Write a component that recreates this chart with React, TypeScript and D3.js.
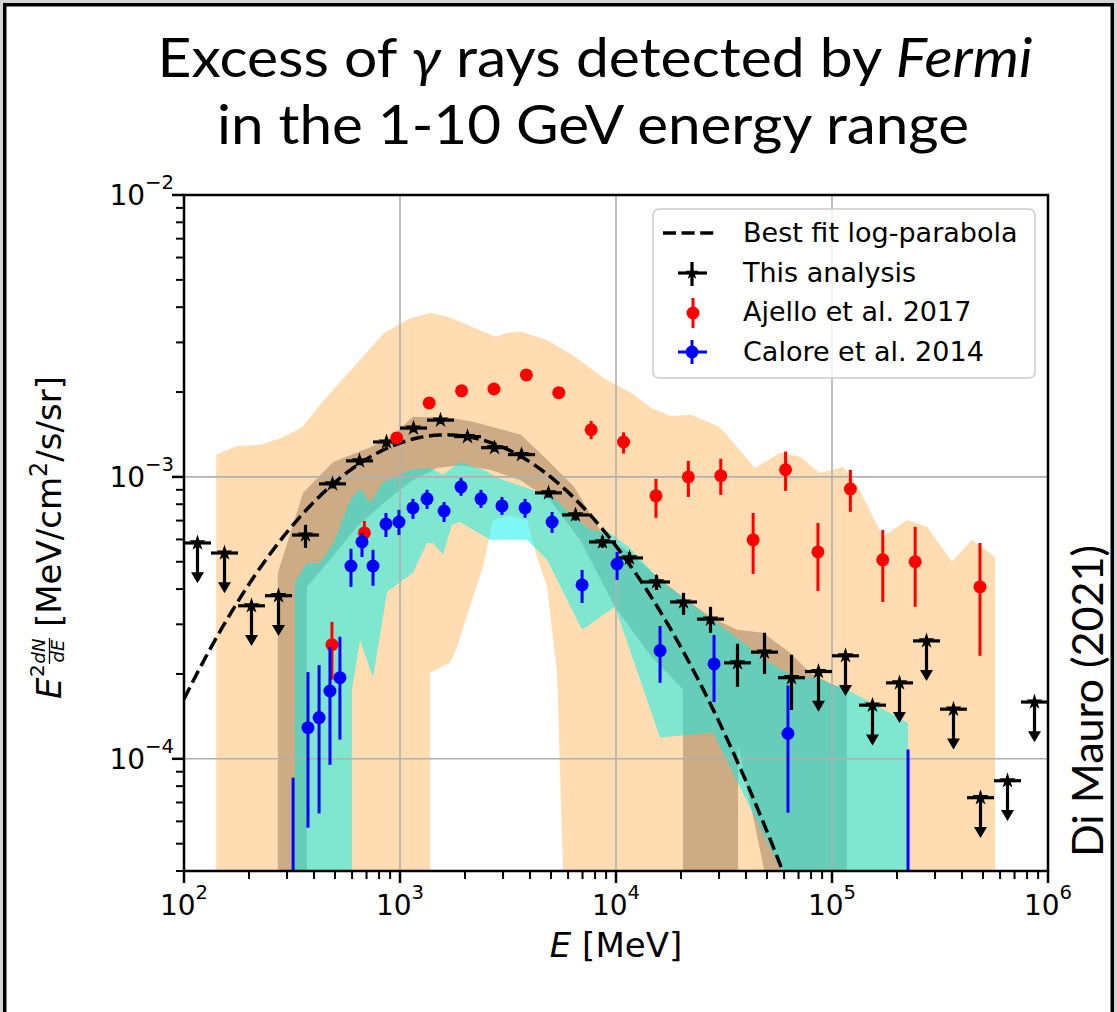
import React from 'react';
import * as d3 from 'd3';

// ---------------- data ----------------
// Energy bin edges of this analysis (MeV), 8 bins per decade
const binEdges = [
  100, 133.35, 177.83, 237.14, 316.23, 421.7, 562.34, 749.89, 1000, 1333.5, 1778.3, 2371.4,
  3162.3, 4217, 5623.4, 7498.9, 10000, 13335, 17783, 23714, 31623, 42170, 56234, 74989,
  100000, 133352, 177828, 237137, 316228, 421697, 562341, 749894, 1000000,
];

// This analysis: E^2 dN/dE [MeV/cm^2/s/sr]
const thisFlux = [
  5.83e-4, 5.37e-4, 3.49e-4, 3.79e-4, 6.22e-4, 9.45e-4, 1.14e-3, 1.33e-3, 1.49e-3, 1.59e-3,
  1.39e-3, 1.27e-3, 1.2e-3, 8.78e-4, 7.33e-4, 5.88e-4, 5.16e-4, 4.24e-4, 3.6e-4, 3.13e-4,
  2.19e-4, 2.39e-4, 1.94e-4, 2.04e-4, 2.32e-4, 1.55e-4, 1.86e-4, 2.62e-4, 1.5e-4, 7.28e-5,
  8.36e-5, 1.59e-4,
];
const thisLow = [
  null, null, null, null, 5.6e-4, 9.1e-4, 1.1e-3, 1.28e-3, 1.44e-3, 1.54e-3,
  1.35e-3, 1.23e-3, 1.16e-3, 8.45e-4, 7.0e-4, 5.6e-4, 4.9e-4, 3.97e-4, 3.24e-4, 2.8e-4,
  1.8e-4, 2.0e-4, 1.49e-4, null, null, null, null, null, null, null, null, null,
];
const thisHigh = [
  null, null, null, null, 6.76e-4, 9.8e-4, 1.18e-3, 1.38e-3, 1.54e-3, 1.64e-3,
  1.44e-3, 1.32e-3, 1.25e-3, 9.1e-4, 7.65e-4, 6.15e-4, 5.4e-4, 4.49e-4, 3.88e-4, 3.46e-4,
  2.56e-4, 2.8e-4, 2.34e-4, null, null, null, null, null, null, null, null, null,
];
const thisUpperLimit = [
  true, true, true, true, false, false, false, false, false, false,
  false, false, false, false, false, false, false, false, false, false,
  false, false, false, true, true, true, true, true, true, true, true, true,
];
// upper-limit arrows extend down to this fraction of the limit
const UL_ARROW_FACTOR = 0.75;

// Ajello et al. 2017
const ajelloE = [
  484, 684, 966, 1365, 1928, 2723, 3846, 5433, 7674, 10839, 15311, 21627, 30549, 43152,
  60954, 86099, 121619, 171791, 242661, 484172,
];
const ajelloFlux = [
  2.54e-4, 6.33e-4, 1.375e-3, 1.83e-3, 2.02e-3, 2.05e-3, 2.3e-3, 1.99e-3, 1.47e-3, 1.33e-3,
  8.57e-4, 1.0e-3, 1.01e-3, 5.98e-4, 1.06e-3, 5.42e-4, 9.06e-4, 5.08e-4, 5.0e-4, 4.07e-4,
];
const ajelloLow = [
  1.91e-4, 5.8e-4, 1.33e-3, 1.78e-3, 1.97e-3, 2.0e-3, 2.25e-3, 1.94e-3, 1.36e-3, 1.21e-3,
  7.16e-4, 8.49e-4, 8.63e-4, 4.53e-4, 8.92e-4, 3.94e-4, 7.52e-4, 3.6e-4, 3.46e-4, 2.32e-4,
];
const ajelloHigh = [
  3.06e-4, 6.98e-4, 1.42e-3, 1.88e-3, 2.07e-3, 2.1e-3, 2.36e-3, 2.04e-3, 1.58e-3, 1.44e-3,
  9.84e-4, 1.14e-3, 1.16e-3, 7.45e-4, 1.23e-3, 6.87e-4, 1.06e-3, 6.49e-4, 6.65e-4, 5.83e-4,
];

// Calore et al. 2014
const caloreE = [
  320, 375, 422, 474, 527, 593, 667, 750, 861, 989, 1148, 1334, 1600, 1916, 2371, 2965,
  3793, 5058, 6966, 10116, 15996, 28440, 62530, 224900,
];
const caloreFlux = [
  2.0e-5, 1.29e-4, 1.4e-4, 1.74e-4, 1.94e-4, 4.83e-4, 5.88e-4, 4.83e-4, 6.81e-4, 6.92e-4,
  7.76e-4, 8.36e-4, 7.57e-4, 9.22e-4, 8.36e-4, 7.89e-4, 7.76e-4, 6.92e-4, 4.14e-4, 4.91e-4,
  2.42e-4, 2.17e-4, 1.23e-4, 2.0e-5,
];
const caloreLow = [
  1e-6, 5.7e-5, 6.4e-5, 9.52e-5, 1.17e-4, 4.07e-4, 5.2e-4, 4.11e-4, 6.12e-4, 6.22e-4,
  7.1e-4, 7.7e-4, 6.92e-4, 8.57e-4, 7.76e-4, 7.33e-4, 7.16e-4, 6.33e-4, 3.57e-4, 4.31e-4,
  1.86e-4, 1.59e-4, 6.44e-5, 1e-6,
];
const caloreHigh = [
  8.57e-5, 2.03e-4, 2.15e-4, 2.49e-4, 2.71e-4, 5.56e-4, 6.33e-4, 5.51e-4, 7.45e-4, 7.64e-4,
  8.36e-4, 9.0e-4, 8.15e-4, 9.92e-4, 9.0e-4, 8.49e-4, 8.36e-4, 7.51e-4, 4.68e-4, 5.42e-4,
  2.96e-4, 2.75e-4, 1.82e-4, 1.08e-4,
];

// Best-fit log-parabola parameters
const FIT_PEAK_E = 1633; // MeV
const FIT_PEAK_FLUX = 1.41e-3;
const FIT_CURVATURE = 0.637;

// Uncertainty bands, [E (MeV), E^2 dN/dE]
const orangeUpper = [
  [141, 1.2e-3], [176, 1.288e-3], [227, 1.3e-3], [290, 1.387e-3], [352, 1.5e-3], [445, 1.875e-3],
  [593, 2.395e-3], [843, 3.24e-3], [1124, 3.66e-3], [1392, 3.82e-3], [1722, 3.66e-3],
  [2202, 3.38e-3], [2782, 3.14e-3], [3126, 3.24e-3], [3631, 3.27e-3], [4796, 3.06e-3],
  [6597, 2.64e-3], [8790, 2.24e-3], [11730, 1.99e-3], [14520, 1.76e-3], [17990, 1.645e-3],
  [22250, 1.66e-3], [30300, 1.5e-3], [36300, 1.277e-3], [44000, 1.076e-3], [57450, 1.217e-3],
  [71120, 1.178e-3], [88000, 1.033e-3], [112500, 1.084e-3], [130600, 9.37e-4],
  [172200, 6.12e-4], [222300, 7.04e-4], [275400, 6.65e-4], [359400, 5.0e-4], [444700, 5.98e-4],
  [568500, 5.2e-4],
];
const orangeLower = [
  [141, 1e-6], [1377, 3.9e-5], [1377, 2.02e-4], [1704, 2.19e-4], [1836, 2.49e-4], [2109, 3.46e-4],
  [2423, 4.8e-4], [2696, 7.04e-4], [3230, 7.27e-4], [3873, 7.04e-4], [4306, 5.2e-4],
  [4796, 4.07e-4], [5333, 2.02e-4], [5689, 3.9e-5], [568500, 1e-6],
];
const brownUpper = [
  [272, 4.57e-4], [356, 8.78e-4], [490, 1.13e-3], [734, 1.277e-3], [899, 1.375e-3],
  [1148, 1.633e-3], [1722, 1.62e-3], [2202, 1.567e-3], [3631, 1.41e-3], [4642, 1.178e-3],
  [6392, 9.22e-4], [8710, 6.22e-4], [11610, 5.37e-4], [15490, 4.42e-4], [20420, 3.75e-4],
  [27230, 3.19e-4], [36300, 2.87e-4], [47930, 2.8e-4], [63940, 2.38e-4], [79070, 2.02e-4],
  [101100, 1.83e-4], [117300, 1.76e-4],
];
const brownLower = [
  [272, 1e-6], [371, 1e-6], [371, 4.07e-4], [474, 5.08e-4], [632, 6.65e-4], [871, 8.28e-4],
  [1148, 9.75e-4], [1483, 1.076e-3], [1896, 1.1e-3], [2612, 1.06e-3], [3594, 9.75e-4],
  [4943, 8.28e-4], [6808, 5.98e-4], [9886, 3.46e-4], [14360, 2.34e-4], [20420, 1.76e-4],
  [20420, 1e-6], [36730, 1e-6], [36730, 1.12e-4], [48980, 3.9e-5], [117300, 1e-6],
];
const cyanUpper = [
  [326, 4.24e-4], [371, 4.95e-4], [426, 4.95e-4], [500, 5.98e-4], [587, 8.28e-4], [653, 9.14e-4],
  [726, 8.09e-4], [834, 9.6e-4], [968, 1.0e-3], [1112, 1.06e-3], [1377, 1.076e-3],
  [1581, 1.017e-3], [1896, 1.13e-3], [2423, 1.06e-3], [2998, 9.75e-4], [3873, 9.14e-4],
  [5110, 8.49e-4], [6124, 7.45e-4], [7580, 6.49e-4], [9380, 6.33e-4], [11610, 5.6e-4],
  [15990, 4.31e-4], [27230, 3.16e-4], [37500, 2.64e-4], [48980, 2.24e-4], [63940, 1.99e-4],
  [83400, 1.94e-4], [117300, 1.76e-4], [224900, 1.34e-4],
];
const cyanLower = [
  [326, 1e-6], [599, 1e-6], [599, 1.76e-4], [653, 2.64e-4], [750, 1.94e-4], [871, 3.91e-4],
  [1148, 4.57e-4], [1334, 5.83e-4], [1422, 5.83e-4], [1581, 5.29e-4], [1741, 6.76e-4],
  [1896, 6.92e-4], [2612, 5.98e-4], [3873, 5.98e-4], [4796, 5.08e-4], [6966, 2.87e-4],
  [9886, 3.46e-4], [15990, 1.19e-4], [28120, 1.24e-4], [59290, 3.9e-5], [224900, 1e-6],
];

const xTickExponents = [2, 3, 4, 5, 6];
const yTickExponents = [-4, -3, -2];
const legendLabels = ['Best fit log-parabola', 'This analysis', 'Ajello et al. 2017', 'Calore et al. 2014'];

// ---------------- layout ----------------
const W = 1117;
const H = 1012;
const P = { left: 184, right: 1048, top: 195, bottom: 871 };
const MPL = '"DejaVu Sans", sans-serif';
const SLIDE = 'Lato, "Open Sans", sans-serif';
const MINUS = '\u2212';

const isMajor = (v: number) => Math.abs(Math.log10(v) - Math.round(Math.log10(v))) < 1e-9;

export default function App() {
  const x = d3.scaleLog().domain([1e2, 1e6]).range([P.left, P.right]);
  const y = d3.scaleLog().domain([4e-5, 1e-2]).range([P.bottom, P.top]);

  const line = d3
    .line<number[]>()
    .x((d) => x(d[0]))
    .y((d) => y(d[1]));
  const band = (upper: number[][], lower: number[][]) =>
    (line([...upper, ...[...lower].reverse()]) as string) + 'Z';

  const fitCurve = d3.range(0, 401).map((i) => {
    const e = Math.pow(10, 2 + i / 100);
    const f = FIT_PEAK_FLUX * Math.pow(10, -FIT_CURVATURE * Math.pow(Math.log10(e / FIT_PEAK_E), 2));
    return [e, f];
  });

  const xTicks = x.ticks();
  const yTicks = y.ticks().filter((v) => v >= 4e-5 * 0.999);
  const star = d3.symbol().type(d3.symbolStar).size(80)() as string;
  const legendStar = d3.symbol().type(d3.symbolStar).size(60)() as string;

  const blackBins = thisFlux.map((f, k) => {
    const lo = binEdges[k];
    const hi = binEdges[k + 1];
    return { k, f, lo, hi, c: Math.sqrt(lo * hi) };
  });

  return (
    <svg
      width={W}
      height={H}
      viewBox={`0 0 ${W} ${H}`}
      style={{ position: 'absolute', left: 0, top: 0, display: 'block' }}
    >
      <defs>
        <clipPath id="plot-clip">
          <rect x={P.left} y={P.top} width={P.right - P.left} height={P.bottom - P.top} />
        </clipPath>
      </defs>

      {/* slide frame */}
      <rect x={0} y={0} width={W} height={H} fill="#d4d4d4" />
      <rect x={4.75} y={4.75} width={1107.5} height={H + 20} fill="#ffffff" stroke="#000" strokeWidth={3.5} />

      {/* title */}
      <text
        x={595}
        y={77}
        textAnchor="middle"
        fontFamily={SLIDE}
        fontSize={55}
        textLength={875}
        lengthAdjust="spacingAndGlyphs"
        fill="#000"
      >
        <tspan>Excess of </tspan>
        <tspan fontStyle="italic">γ</tspan>
        <tspan> rays detected by </tspan>
        <tspan fontStyle="italic">Fermi</tspan>
      </text>
      <text
        x={593}
        y={144}
        textAnchor="middle"
        fontFamily={SLIDE}
        fontSize={55}
        textLength={752}
        lengthAdjust="spacingAndGlyphs"
        fill="#000"
      >
        in the 1-10 GeV energy range
      </text>

      {/* plot area background */}
      <rect x={P.left} y={P.top} width={P.right - P.left} height={P.bottom - P.top} fill="#fff" />

      <g clipPath="url(#plot-clip)">
        {/* uncertainty bands */}
        <path d={band(orangeUpper, orangeLower)} fill="#ff8c00" fillOpacity={0.3} />
        <path d={band(brownUpper, brownLower)} fill="#5a3a1a" fillOpacity={0.3} />
        <path d={band(cyanUpper, cyanLower)} fill="#00f2eb" fillOpacity={0.5} />

        {/* grid */}
        {xTicks.filter(isMajor).map((v) => (
          <line key={`gx${v}`} x1={x(v)} x2={x(v)} y1={P.top} y2={P.bottom} stroke="#b0b0b0" strokeWidth={1.6} />
        ))}
        {yTicks.filter(isMajor).map((v) => (
          <line key={`gy${v}`} x1={P.left} x2={P.right} y1={y(v)} y2={y(v)} stroke="#b0b0b0" strokeWidth={1.6} />
        ))}

        {/* best-fit log-parabola */}
        <path
          d={line(fitCurve) as string}
          fill="none"
          stroke="#000"
          strokeWidth={3.5}
          strokeDasharray="13 5.6"
        />

        {/* this analysis */}
        {blackBins.map((b) => {
          const cx = x(b.c);
          const cy = y(b.f);
          const ul = thisUpperLimit[b.k];
          const yEnd = y(b.f * UL_ARROW_FACTOR);
          return (
            <g key={`b${b.k}`}>
              <line x1={x(b.lo)} x2={x(b.hi)} y1={cy} y2={cy} stroke="#000" strokeWidth={3.2} />
              {ul ? (
                <>
                  <line x1={cx} x2={cx} y1={cy} y2={yEnd - 4} stroke="#000" strokeWidth={3.2} />
                  <path
                    d={`M${cx - 6.5},${yEnd - 6}L${cx + 6.5},${yEnd - 6}L${cx},${yEnd + 5}Z`}
                    fill="#000"
                  />
                </>
              ) : (
                <line
                  x1={cx}
                  x2={cx}
                  y1={y(thisHigh[b.k] as number)}
                  y2={y(thisLow[b.k] as number)}
                  stroke="#000"
                  strokeWidth={3.2}
                />
              )}
              <path d={star} transform={`translate(${cx},${cy})`} fill="#000" />
            </g>
          );
        })}

        {/* Ajello et al. 2017 */}
        {ajelloE.map((e, i) => (
          <g key={`a${i}`}>
            <line
              x1={x(e)}
              x2={x(e)}
              y1={y(ajelloHigh[i])}
              y2={y(ajelloLow[i])}
              stroke="#ff0000"
              strokeWidth={3}
            />
            <circle cx={x(e)} cy={y(ajelloFlux[i])} r={6.5} fill="#ff0000" />
          </g>
        ))}

        {/* Calore et al. 2014 */}
        {caloreE.map((e, i) => (
          <g key={`c${i}`}>
            <line
              x1={x(e)}
              x2={x(e)}
              y1={y(caloreHigh[i])}
              y2={y(caloreLow[i])}
              stroke="#0000ff"
              strokeWidth={3}
            />
            <circle cx={x(e)} cy={y(caloreFlux[i])} r={6.5} fill="#0000ff" />
          </g>
        ))}
      </g>

      {/* axes frame */}
      <rect
        x={P.left}
        y={P.top}
        width={P.right - P.left}
        height={P.bottom - P.top}
        fill="none"
        stroke="#000"
        strokeWidth={2.5}
      />

      {/* x ticks */}
      {xTicks.map((v) => {
        const major = isMajor(v);
        return (
          <line
            key={`xt${v}`}
            x1={x(v)}
            x2={x(v)}
            y1={P.bottom}
            y2={P.bottom + (major ? 12 : 8)}
            stroke="#000"
            strokeWidth={major ? 2.5 : 2}
          />
        );
      })}
      {xTickExponents.map((p) => (
        <text key={`xl${p}`} x={x(Math.pow(10, p))} y={915} textAnchor="middle" fontFamily={MPL} fontSize={28}>
          10
          <tspan fontSize={19.6} dy={-16}>
            {p < 0 ? MINUS + Math.abs(p) : p}
          </tspan>
        </text>
      ))}

      {/* y ticks */}
      {yTicks.map((v) => {
        const major = isMajor(v);
        return (
          <line
            key={`yt${v}`}
            x1={P.left - (major ? 12 : 8)}
            x2={P.left}
            y1={y(v)}
            y2={y(v)}
            stroke="#000"
            strokeWidth={major ? 2.5 : 2}
          />
        );
      })}
      {yTickExponents.map((p) => (
        <text key={`yl${p}`} x={174} y={y(Math.pow(10, p)) + 10} textAnchor="end" fontFamily={MPL} fontSize={28}>
          10
          <tspan fontSize={19.6} dy={-16}>
            {p < 0 ? MINUS + Math.abs(p) : p}
          </tspan>
        </text>
      ))}

      {/* x label */}
      <text x={616} y={957} textAnchor="middle" fontFamily={MPL} fontSize={34}>
        <tspan fontStyle="italic">E</tspan> [MeV]
      </text>

      {/* y label */}
      <g transform="translate(61,534) rotate(-90)" fontFamily={MPL}>
        <text x={-165} y={0} fontSize={34} fontStyle="italic">
          E
        </text>
        <text x={-143} y={-17} fontSize={20}>
          2
        </text>
        <text x={-117} y={-16} fontSize={18} fontStyle="italic" textAnchor="middle">
          dN
        </text>
        <line x1={-130} x2={-104} y1={-11.5} y2={-11.5} stroke="#000" strokeWidth={1.3} />
        <text x={-117} y={3} fontSize={18} fontStyle="italic" textAnchor="middle">
          dE
        </text>
        <text x={-93} y={0} fontSize={34}>
          [MeV/cm
          <tspan fontSize={24} dy={-14}>
            2
          </tspan>
          <tspan dy={14}>/s/sr]</tspan>
        </text>
      </g>

      {/* legend */}
      <g fontFamily={MPL} fontSize={27}>
        <rect x={653} y={209} width={382} height={169} rx={6} fill="#fff" fillOpacity={0.8} stroke="#cccccc" strokeWidth={1.5} />
        <line x1={663} x2={718} y1={233} y2={233} stroke="#000" strokeWidth={3.5} strokeDasharray="13 5.6" />
        <line x1={678} x2={707} y1={273} y2={273} stroke="#000" strokeWidth={3.2} />
        <line x1={692} x2={692} y1={262} y2={286} stroke="#000" strokeWidth={3.2} />
        <path d={legendStar} transform="translate(692,273)" fill="#000" />
        <line x1={693} x2={693} y1={298} y2={328} stroke="#ff0000" strokeWidth={3} />
        <circle cx={693} cy={313} r={6.5} fill="#ff0000" />
        <line x1={678} x2={707} y1={352} y2={352} stroke="#0000ff" strokeWidth={3} />
        <line x1={692} x2={692} y1={340} y2={364} stroke="#0000ff" strokeWidth={3} />
        <circle cx={692} cy={352} r={6.5} fill="#0000ff" />
        {legendLabels.map((t, i) => (
          <text key={t} x={743} y={242 + i * 39.6} fill="#000">
            {t}
          </text>
        ))}
      </g>

      {/* citation */}
      <text
        transform="translate(1103,857) rotate(-90)"
        fontFamily={SLIDE}
        fontSize={43}
        textLength={312}
        lengthAdjust="spacingAndGlyphs"
      >
        Di Mauro (2021)
      </text>
    </svg>
  );
}
